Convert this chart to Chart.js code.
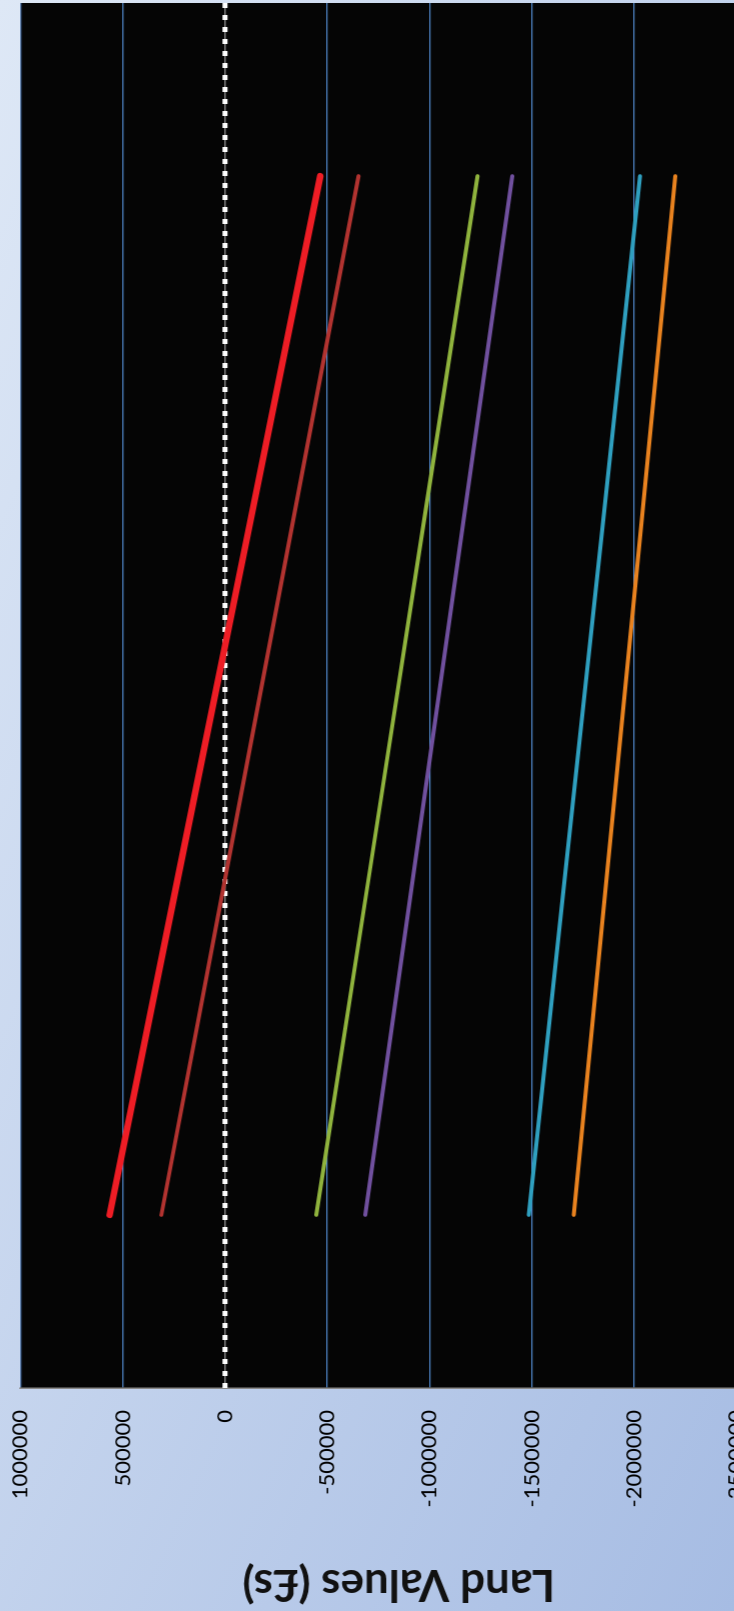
<!DOCTYPE html>
<html>
<head>
<meta charset="utf-8">
<script src="https://cdn.jsdelivr.net/npm/chart.js@4"></script>
<style>
    html, body { margin: 0; padding: 0; overflow: hidden; }
    #stage {
        position: relative;
        width: 734px;
        height: 1611px;
        overflow: hidden;
        background: linear-gradient(to bottom right, #dee8f6, #a6bce3);
    }
    /* the chart is drawn sideways: turned a quarter turn to the left */
    #turn {
        position: absolute;
        left: 0;
        top: 0;
        width: 1611px;
        height: 827px;
        transform-origin: 0 0;
        transform: translate(0, 1611px) rotate(-90deg) translate(0, -14.7px);
    }
</style>
</head>
<body>
<div id="stage">
    <div id="turn"><canvas id="landChart" width="1611" height="827"></canvas></div>
</div>
<script>
var categories = ["1", "2", "3", "4"];
var tickValues = [1000000, 500000, 0, -500000, -1000000, -1500000, -2000000, -2500000];

var seriesRed = [564000, 221000, -123000, -466000];
var seriesBrown = [311000, -10000, -332000, -653000];
var seriesGreen = [-447000, -710000, -972000, -1235000];
var seriesPurple = [-686000, -926000, -1165000, -1405000];
var seriesCyan = [-1486000, -1667000, -1849000, -2030000];
var seriesOrange = [-1706000, -1871000, -2037000, -2202000];

Chart.defaults.font.family = "Lato, 'Open Sans', sans-serif";

// black plot area, then the dotted white line at zero
var plotBack = {
    id: "plotBack",
    beforeDraw: function(chart) {
        var a = chart.chartArea;
        var ctx = chart.ctx;
        ctx.save();
        ctx.fillStyle = "#050505";
        ctx.fillRect(a.left, a.top, a.right - a.left, a.bottom - a.top);
        ctx.restore();
    },
    beforeDatasetsDraw: function(chart) {
        var a = chart.chartArea;
        var ctx = chart.ctx;
        var y0 = chart.scales.y.getPixelForValue(0);
        ctx.save();
        ctx.strokeStyle = "#808080";
        ctx.lineWidth = 1.5;
        ctx.beginPath();
        ctx.moveTo(a.left, y0);
        ctx.lineTo(a.right, y0);
        ctx.stroke();
        ctx.strokeStyle = "#ffffff";
        ctx.lineWidth = 5;
        ctx.setLineDash([5, 7]);
        ctx.beginPath();
        ctx.moveTo(a.left, y0);
        ctx.lineTo(a.right, y0);
        ctx.stroke();
        ctx.restore();
    }
};

function lineSet(label, data, color, width) {
    return {
        label: label,
        data: data,
        borderColor: color,
        backgroundColor: color,
        borderWidth: width,
        borderCapStyle: "round",
        pointRadius: 0,
        tension: 0,
        fill: false
    };
}

new Chart(document.getElementById("landChart"), {
    type: "line",
    data: {
        labels: categories,
        datasets: [
            lineSet("Series 1", seriesRed, "#ee1d25", 6.5),
            lineSet("Series 2", seriesBrown, "#b23330", 4),
            lineSet("Series 3", seriesGreen, "#8fb33d", 4),
            lineSet("Series 4", seriesPurple, "#70509e", 4),
            lineSet("Series 5", seriesCyan, "#2f9fbf", 4),
            lineSet("Series 6", seriesOrange, "#e8821f", 4)
        ]
    },
    options: {
        responsive: false,
        animation: false,
        devicePixelRatio: 1,
        layout: { padding: { left: 0, right: 3, top: 20, bottom: 14 } },
        plugins: {
            legend: { display: false },
            tooltip: { enabled: false }
        },
        scales: {
            x: {
                type: "category",
                offset: true,
                display: false
            },
            y: {
                min: -2700000,
                max: 1000000,
                afterBuildTicks: function(scale) {
                    scale.ticks = tickValues.map(function(v) { return { value: v }; });
                },
                grid: {
                    drawTicks: false,
                    lineWidth: 1.3,
                    color: function(ctx) {
                        if (ctx.tick && ctx.tick.value === 0) return "rgba(0,0,0,0)";
                        if (ctx.tick && ctx.tick.value === 1000000) return "#3d6396";
                        return "#4f86c8";
                    }
                },
                border: { display: true, color: "#8a8a8a", width: 1.5 },
                ticks: {
                    padding: 22,
                    color: "#000000",
                    font: { size: 22 },
                    callback: function(v) { return String(v); }
                },
                title: {
                    display: true,
                    text: "Land Values (£s)",
                    color: "#111111",
                    font: { size: 44, weight: "bold" },
                    padding: { top: 0, bottom: 28.7 }
                }
            }
        }
    },
    plugins: [plotBack]
});
</script>
</body>
</html>
